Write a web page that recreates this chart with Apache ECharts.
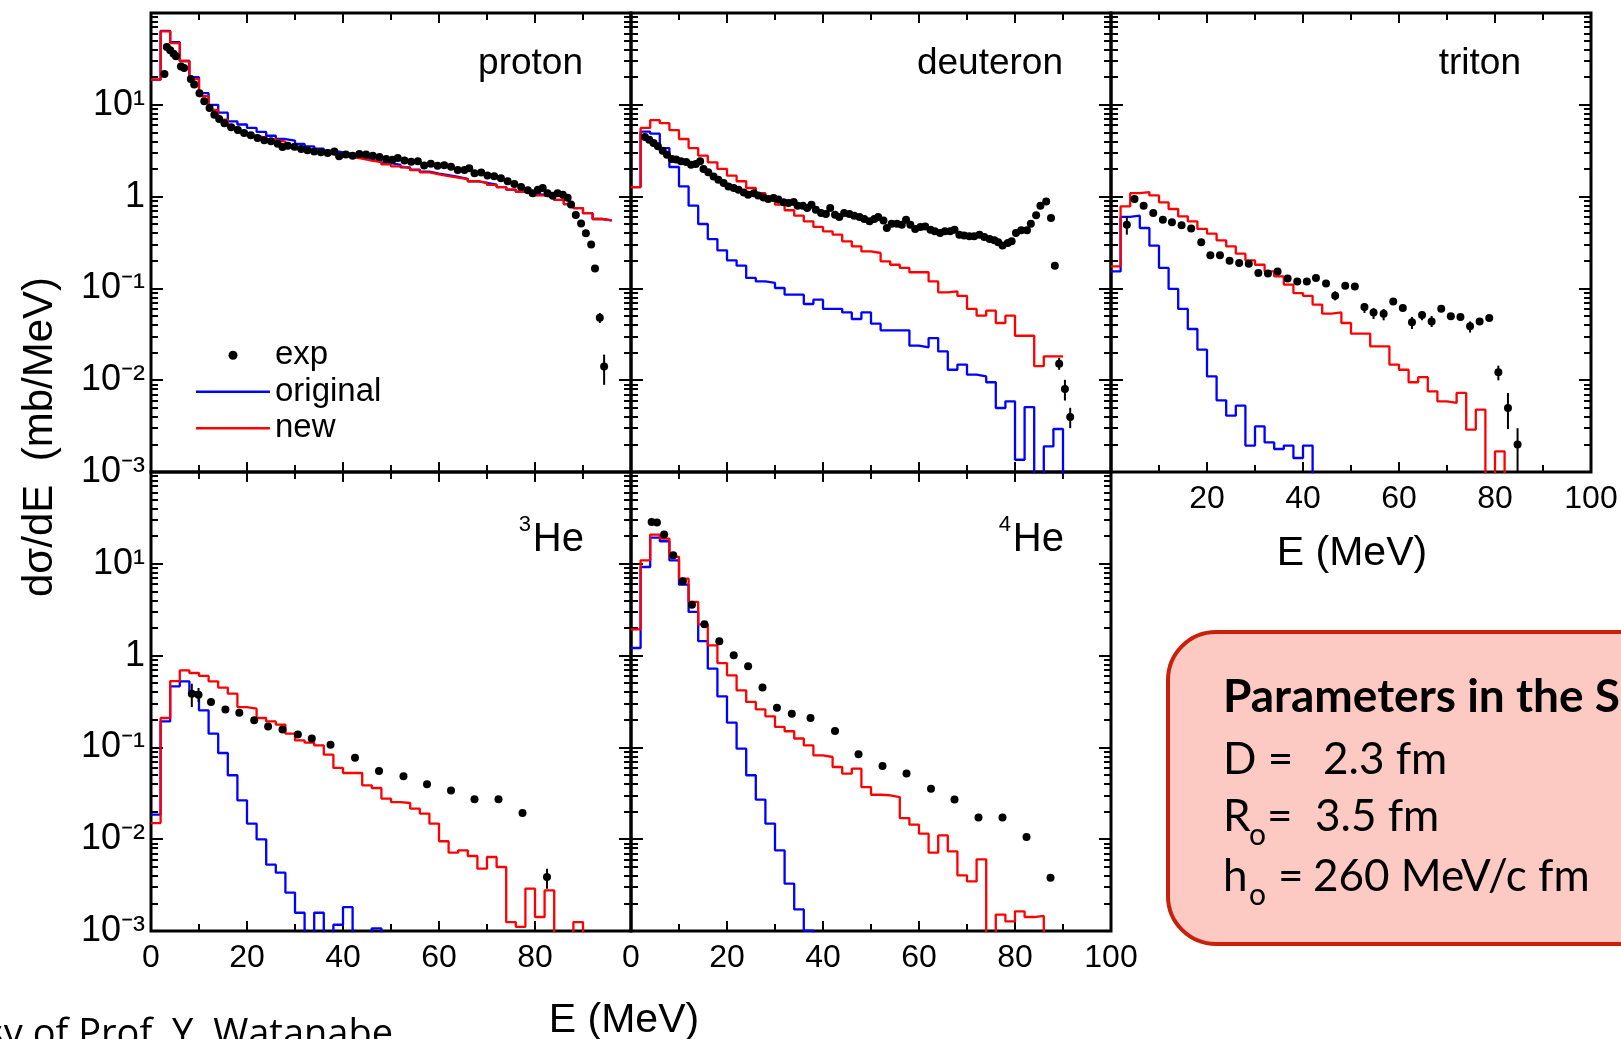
<!DOCTYPE html>
<html>
<head>
<meta charset="utf-8">
<script src="https://cdn.jsdelivr.net/npm/echarts@6/dist/echarts.min.js"></script>
<style>
  html, body { margin: 0; padding: 0; background: #fff; }
  #chart { width: 1621px; height: 1039px; }
</style>
</head>
<body>
<div id="chart"></div>
<script>
// Energy spectra dσ/dE (mb/MeV) of light particles, experiment vs. two model versions.
// Model histograms use 2 MeV bins starting at 0 MeV; a 0 means an empty bin.
const BIN = 2;

const panelNames = ['proton', 'deuteron', 'triton', 'He', 'He'];
const panelMass = ['', '', '', '3', '4'];
const legendNames = ['exp', 'original', 'new'];
const xTickLabels = [0, 20, 40, 60, 80, 100];
const yDecades = [0.001, 0.01, 0.1, 1, 10, 100];
const yLabelled = [0.001, 0.01, 0.1, 1, 10];

const protonOriginal = [18.8, 64, 48, 30, 20, 13.4, 10.0, 8.2, 6.6, 6.1, 5.6, 5.06, 4.6, 4.24, 4.06, 3.74, 3.53, 3.33, 3.16, 3.04, 2.91, 2.75, 2.61, 2.48, 2.32, 2.21, 2.08, 1.97, 1.87, 1.78, 1.71, 1.64, 1.56, 1.47, 1.41, 1.35, 1.27, 1.19, 1.13, 1.09, 1.04, 0.99, 0.92, 0.83, 0.75, 0.66, 0.57, 0.55];
const protonNew = [18.8, 63, 47, 30, 19, 12.4, 8.8, 6.9, 5.7, 5.0, 4.6, 4.4, 4.17, 3.97, 3.6, 3.3, 3.2, 3.03, 2.89, 2.79, 2.70, 2.59, 2.47, 2.37, 2.24, 2.13, 2.04, 1.94, 1.84, 1.75, 1.67, 1.61, 1.55, 1.47, 1.41, 1.34, 1.27, 1.19, 1.13, 1.09, 1.03, 0.99, 0.92, 0.83, 0.75, 0.66, 0.57, 0.55];
const protonExp = [[2.8, 21.6], [3.3, 42.6], [4.0, 39.2], [4.7, 36], [5.2, 33.7], [6.25, 26.2], [6.9, 25.2], [8.3, 19.1], [9.0, 16.6], [10.1, 13.4], [11.1, 10.9], [12.2, 9.2], [13.2, 7.8], [14.2, 7.0], [15.3, 6.3], [16.7, 5.7], [18.1, 5.3], [19.4, 4.93], [20.8, 4.65], [22.2, 4.35], [23.6, 4.1], [25, 4.0], [26.4, 3.77], [27.4, 3.47], [28.5, 3.59], [29.9, 3.5], [31.3, 3.3], [32.6, 3.19], [34, 3.1], [35.4, 3.04], [36.8, 2.99], [38.2, 3.1], [39.2, 2.75], [40.6, 2.87], [42, 2.79], [43.4, 2.91], [44.8, 2.87], [46.2, 2.79], [47.6, 2.7], [49, 2.56], [50.3, 2.52], [51.4, 2.63], [52.8, 2.48], [54.2, 2.4], [55.6, 2.42], [56.9, 2.18], [58.3, 2.28], [59.7, 2.17], [61.1, 2.2], [62.5, 2.12], [63.9, 1.95], [65.3, 1.95], [66.3, 2.04], [67.4, 1.8], [68.8, 1.83], [70.1, 1.7], [71.5, 1.67], [72.9, 1.58], [74.3, 1.47], [75.7, 1.37], [77.1, 1.27], [78.5, 1.17], [79.5, 1.09], [80.6, 1.19], [81.6, 1.24], [82.6, 1.09], [83.7, 1.02], [84.7, 1.09], [85.8, 1.05], [86.8, 0.97], [87.5, 0.82], [88.5, 0.63], [89.6, 0.51], [90.6, 0.40], [91.7, 0.30], [92.5, 0.165], [93.5, 0.048], [94.4, 0.0141]];
const protonErr = [[93.5, 0.042, 0.054], [94.4, 0.0089, 0.019]];

const deuteronOriginal = [1.27, 5.1, 4.85, 3.38, 2.1, 1.29, 0.796, 0.503, 0.345, 0.26, 0.202, 0.177, 0.130, 0.119, 0.115, 0.101, 0.0855, 0.0855, 0.0676, 0.0754, 0.0597, 0.0597, 0.0548, 0.0464, 0.0548, 0.0413, 0.0349, 0.0349, 0.0349, 0.0238, 0.0228, 0.0288, 0.0206, 0.013, 0.0148, 0.0115, 0.011, 0.0095, 0.00498, 0.00589, 0.00136, 0.0051, 0, 0.0019, 0.00294, 0];
const deuteronNew = [1.27, 5.6, 6.8, 6.3, 5.3, 4.24, 3.38, 2.79, 2.36, 2.0, 1.69, 1.47, 1.24, 1.09, 0.93, 0.817, 0.71, 0.62, 0.538, 0.467, 0.419, 0.385, 0.326, 0.287, 0.253, 0.243, 0.197, 0.181, 0.167, 0.150, 0.150, 0.119, 0.0906, 0.093, 0.083, 0.0597, 0.0505, 0.0572, 0.042, 0.0505, 0.0305, 0.0305, 0.0142, 0.0182, 0.0182];
const deuteronExp = [[2.9, 4.46], [3.8, 4.17], [4.7, 3.84], [5.6, 3.53], [6.6, 3.16], [7.5, 2.86], [8.5, 2.57], [9.4, 2.53], [10.4, 2.42], [11.5, 2.38], [12.5, 2.23], [13.5, 2.27], [14.4, 2.42], [15.1, 2.0], [16.1, 1.84], [17.2, 1.66], [18.2, 1.53], [19.3, 1.41], [20.3, 1.29], [21.4, 1.24], [22.4, 1.19], [23.5, 1.11], [24.4, 1.05], [25.6, 1.09], [26.5, 1.03], [27.6, 0.98], [28.6, 0.94], [29.7, 0.966], [30.7, 0.927], [31.8, 0.867], [32.8, 0.851], [33.9, 0.873], [34.7, 0.796], [35.8, 0.796], [36.7, 0.751], [37.6, 0.817], [38.5, 0.721], [39.6, 0.663], [40.6, 0.646], [41.5, 0.751], [42.5, 0.636], [43.4, 0.60], [44.4, 0.663], [45.5, 0.646], [46.5, 0.62], [47.6, 0.60], [48.6, 0.57], [49.7, 0.538], [50.7, 0.57], [51.5, 0.60], [52.6, 0.55], [53.3, 0.455], [54.3, 0.507], [55.4, 0.507], [56.4, 0.495], [57.3, 0.56], [58.2, 0.495], [59.2, 0.444], [60.3, 0.466], [61.3, 0.473], [62.4, 0.436], [63.3, 0.419], [64.4, 0.401], [65.4, 0.419], [66.5, 0.419], [67.4, 0.436], [68.4, 0.385], [69.4, 0.376], [70.5, 0.369], [71.5, 0.369], [72.6, 0.385], [73.6, 0.363], [74.7, 0.345], [75.7, 0.334], [76.5, 0.318], [77.4, 0.294], [78.5, 0.312], [79.3, 0.326], [80.2, 0.401], [81.3, 0.43], [82.5, 0.43], [83.3, 0.507], [84.4, 0.625], [85.3, 0.796], [86.5, 0.887], [87.5, 0.585], [88.3, 0.177], [89.2, 0.0151], [90.4, 0.0080], [91.5, 0.00397]];
const deuteronErr = [[89.2, 0.0130, 0.0175], [90.4, 0.0060, 0.0101], [91.5, 0.0030, 0.0050]];

const tritonOriginal = [0.153, 0.60, 0.62, 0.455, 0.292, 0.167, 0.0987, 0.0597, 0.0361, 0.0215, 0.011, 0.00604, 0.00411, 0.00528, 0.00194, 0.00314, 0.0021, 0.00178, 0.00194, 0.00142, 0.00194, 0];
const tritonNew = [0.174, 0.783, 1.09, 1.12, 1.03, 0.867, 0.733, 0.61, 0.538, 0.444, 0.395, 0.334, 0.287, 0.239, 0.202, 0.181, 0.153, 0.135, 0.11, 0.089, 0.083, 0.0666, 0.0531, 0.0548, 0.042, 0.0321, 0.0321, 0.0234, 0.0234, 0.0148, 0.013, 0.0095, 0.0108, 0.00757, 0.00589, 0.00565, 0.00726, 0.00289, 0.00478, 0, 0.00168, 0];
const tritonExp = [[3.3, 0.494], [4.9, 0.942], [6.8, 0.796], [8.8, 0.663], [10.8, 0.561], [12.7, 0.525], [14.7, 0.487], [16.7, 0.448], [18.8, 0.318], [20.7, 0.229], [22.7, 0.229], [24.7, 0.2], [26.7, 0.189], [28.7, 0.186], [30.7, 0.147], [32.7, 0.145], [34.7, 0.153], [36.8, 0.128], [38.8, 0.119], [40.8, 0.119], [42.7, 0.13], [44.8, 0.113], [46.7, 0.0834], [48.8, 0.107], [50.8, 0.105], [52.8, 0.0627], [54.7, 0.0548], [56.8, 0.0531], [58.8, 0.0722], [60.8, 0.0611], [62.7, 0.0427], [64.8, 0.0513], [66.8, 0.0437], [68.8, 0.0601], [70.8, 0.0496], [72.8, 0.0488], [74.8, 0.0386], [76.8, 0.0437], [78.8, 0.0476], [80.7, 0.0122], [82.7, 0.00498], [84.7, 0.00199]];
const tritonErr = [[3.3, 0.385, 0.61], [46.7, 0.074, 0.093], [52.8, 0.054, 0.0693], [54.7, 0.0464, 0.061], [56.8, 0.0449, 0.0597], [62.7, 0.0361, 0.0489], [64.8, 0.045, 0.056], [66.8, 0.038, 0.050], [74.8, 0.0331, 0.0437], [80.7, 0.00997, 0.0144], [82.7, 0.00294, 0.00726], [84.7, 0.001, 0.003]];

const he3Original = [0.0185, 0.192, 0.463, 0.525, 0.401, 0.253, 0.141, 0.0869, 0.0497, 0.0265, 0.0148, 0.00997, 0.00528, 0.00432, 0.00262, 0.00158, 0, 0.00158, 0, 0.00117, 0.00182, 0, 0, 0.00107, 0];
const he3New = [0.0150, 0.209, 0.528, 0.691, 0.646, 0.60, 0.525, 0.448, 0.385, 0.275, 0.264, 0.209, 0.192, 0.177, 0.141, 0.119, 0.113, 0.105, 0.0834, 0.0597, 0.0526, 0.0526, 0.0386, 0.0361, 0.0277, 0.0254, 0.0248, 0.0215, 0.019, 0.0148, 0.0095, 0.00713, 0.00757, 0.00656, 0.00478, 0.0064, 0.00498, 0.00125, 0.00111, 0.00289, 0.00142, 0.00277, 0, 0, 0.00125, 0];
const he3Exp = [[8.5, 0.385], [9.9, 0.375], [12.5, 0.313], [15.5, 0.258], [18.4, 0.239], [21.5, 0.197], [24.4, 0.169], [27.4, 0.157], [30.6, 0.138], [33.5, 0.125], [37.4, 0.107], [42.5, 0.0773], [47.5, 0.0553], [52.6, 0.0484], [57.5, 0.0396], [62.5, 0.034], [67.4, 0.0272], [72.4, 0.0272], [77.4, 0.0193], [82.5, 0.00387]];
const he3Err = [[8.5, 0.275, 0.494], [9.9, 0.313, 0.444], [82.5, 0.00289, 0.00478]];

const he4Original = [1.21, 9.23, 19.3, 17.6, 10.9, 5.93, 2.99, 1.44, 0.721, 0.36, 0.186, 0.0968, 0.0497, 0.027, 0.0148, 0.00757, 0.00328, 0.00172, 0.00101, 0];
const he4New = [1.93, 10.9, 20.8, 18.8, 11.9, 6.89, 3.84, 2.19, 1.29, 0.83, 0.61, 0.419, 0.313, 0.26, 0.218, 0.167, 0.15, 0.125, 0.105, 0.082, 0.0786, 0.0612, 0.0518, 0.0587, 0.037, 0.0305, 0.0301, 0.0288, 0.017, 0.0144, 0.0115, 0.00713, 0.011, 0.00738, 0.00404, 0.00347, 0.00604, 0, 0.00151, 0.00127, 0.00164, 0.00142, 0.00146, 0];
const he4Exp = [[4.3, 28.5], [5.4, 28.1], [6.9, 20.9], [8.8, 12.4], [10.8, 6.44], [12.7, 3.59], [15.3, 2.19], [18.4, 1.43], [21.4, 1.01], [24.4, 0.764], [27.4, 0.448], [30.4, 0.271], [33.5, 0.233], [37.4, 0.209], [42.5, 0.151], [47.4, 0.084], [52.4, 0.0627], [57.4, 0.0518], [62.5, 0.0355], [67.4, 0.027], [72.4, 0.0172], [77.4, 0.0172], [82.4, 0.0106], [87.4, 0.00381]];
const he4Err = [];

// ---------------------------------------------------------------------------
const SANS = "'Liberation Sans', Arial, Helvetica, sans-serif";
const HUMANIST = "Lato, 'Open Sans', sans-serif";
const OPEN = "'Open Sans', 'Noto Sans', sans-serif";
const BLUE = '#0000ff';
const RED = '#ff0000';
const OFF_SCALE = 1e-7;   // empty bins fall below the axis floor and get clipped
const PANEL_W = 480, PANEL_H = 459;
const LINE_ICON = 'path://M0 0H74V2.3H0Z';
const SUPERSCRIPT = { '-': '\u207B', '0': '\u2070', '1': '\u00B9', '2': '\u00B2', '3': '\u00B3' };

const panels = [
  { left: 151, top: 13,  orig: protonOriginal,   neu: protonNew,   exp: protonExp,   err: protonErr,   yLab: true,  xLab: null },
  { left: 631, top: 13,  orig: deuteronOriginal, neu: deuteronNew, exp: deuteronExp, err: deuteronErr, yLab: false, xLab: null },
  { left: 1111, top: 13, orig: tritonOriginal,   neu: tritonNew,   exp: tritonExp,   err: tritonErr,   yLab: false, xLab: { min: false, max: true } },
  { left: 151, top: 472, orig: he3Original,      neu: he3New,      exp: he3Exp,      err: he3Err,      yLab: true,  xLab: { min: true, max: false } },
  { left: 631, top: 472, orig: he4Original,      neu: he4New,      exp: he4Exp,      err: he4Err,      yLab: false, xLab: { min: true, max: true } }
];

// minor tick positions 2..9 within each decade
const yMinor = [];
for (let e = -3; e <= 1; e++) for (let m = 2; m <= 9; m++) yMinor.push(+(m * Math.pow(10, e)).toPrecision(3));

function histPoints(bins) {
  const pts = bins.map((v, i) => [i * BIN, v > 0 ? v : OFF_SCALE]);
  const last = bins[bins.length - 1];
  pts.push([bins.length * BIN, last > 0 ? last : OFF_SCALE]);
  return pts;
}

function powerLabel(v) {
  const e = Math.round(Math.log10(v));
  if (e === 0) return '1';
  return '10' + String(e).split('').map(c => SUPERSCRIPT[c]).join('');
}

const tickLine = { color: '#000', width: 2 };

const grids = [], xAxes = [], yAxes = [], series = [];
panels.forEach((p, i) => {
  grids.push({
    left: p.left, top: p.top, width: PANEL_W, height: PANEL_H,
    show: true, borderColor: '#000', borderWidth: 3, backgroundColor: 'transparent',
    containLabel: false, outerBoundsMode: 'none'
  });
  ['bottom', 'top'].forEach(pos => {
    const lab = pos === 'bottom' && p.xLab;
    xAxes.push({
      gridIndex: i, type: 'value', min: 0, max: 100, interval: 20, position: pos,
      axisLine: { show: false, onZero: false }, splitLine: { show: false },
      axisTick: { inside: true, length: 10, lineStyle: tickLine },
      minorTick: { show: true, splitNumber: 2, length: 7, lineStyle: tickLine },
      axisLabel: lab ? {
        show: true, color: '#000', fontSize: 32, fontFamily: SANS, margin: 11,
        showMinLabel: p.xLab.min, showMaxLabel: p.xLab.max,
        customValues: xTickLabels
      } : { show: false }
    });
  });
  ['left', 'right'].forEach(pos => {
    const lab = pos === 'left' && p.yLab;
    yAxes.push({
      gridIndex: i, type: 'log', logBase: 10, min: 0.001, max: 100, position: pos,
      axisLine: { show: false, onZero: false }, splitLine: { show: false },
      axisTick: { inside: true, length: 12, lineStyle: tickLine, customValues: yDecades },
      axisLabel: lab ? {
        show: true, color: '#000', fontSize: 36, fontFamily: SANS, margin: 6,
        customValues: yLabelled, formatter: powerLabel
      } : { show: false }
    });
    yAxes.push({
      gridIndex: i, type: 'log', logBase: 10, min: 0.001, max: 100, position: pos,
      axisLine: { show: false, onZero: false }, splitLine: { show: false },
      axisTick: { inside: true, length: 7, lineStyle: tickLine, customValues: yMinor },
      axisLabel: { show: false }
    });
  });

  const xi = 2 * i, yi = 4 * i;
  series.push({
    type: 'line', name: 'original', xAxisIndex: xi, yAxisIndex: yi, step: 'end',
    data: histPoints(p.orig), symbol: 'none', clip: true, z: 2,
    lineStyle: { color: BLUE, width: 2.3 }, itemStyle: { color: BLUE }
  });
  series.push({
    type: 'line', name: 'new', xAxisIndex: xi, yAxisIndex: yi, step: 'end',
    data: histPoints(p.neu), symbol: 'none', clip: true, z: 3,
    lineStyle: { color: RED, width: 2.3 }, itemStyle: { color: RED }
  });
  series.push({
    type: 'custom', name: 'exp error', xAxisIndex: xi, yAxisIndex: yi, z: 4,
    data: p.err, encode: { x: 0, y: [1, 2] },
    renderItem: (params, api) => {
      const lo = api.coord([api.value(0), api.value(1)]);
      const hi = api.coord([api.value(0), api.value(2)]);
      return { type: 'line', shape: { x1: lo[0], y1: lo[1], x2: hi[0], y2: hi[1] }, style: { stroke: '#000', lineWidth: 2 } };
    }
  });
  series.push({
    type: 'scatter', name: 'exp', xAxisIndex: xi, yAxisIndex: yi, z: 5,
    data: p.exp, symbol: 'circle', symbolSize: 8, itemStyle: { color: '#000', opacity: 1 }
  });
});

// text placed by its baseline; 'middle' sits this fraction of the size above it
function label(text, x, base, size, opt) {
  opt = opt || {};
  const k = opt.family === HUMANIST ? 0.387 : (opt.family === OPEN ? 0.43 : 0.3465);
  return {
    type: 'text', x: x, y: base - k * size, silent: true, z: opt.z || 1,
    style: {
      text: text, fill: '#000', fontSize: size, fontFamily: opt.family || SANS,
      fontWeight: opt.weight || 'normal', align: opt.align || 'left', verticalAlign: 'middle'
    }
  };
}
const BOX = { family: HUMANIST, z: 11 };

const graphics = [
  label(panelNames[0], 583, 77, 37, { align: 'right' }),
  label(panelNames[1], 1063, 77, 37, { align: 'right' }),
  label(panelNames[2], 1521, 77, 37, { align: 'right' }),
  label(panelNames[3], 584, 554, 40, { align: 'right' }),
  label(panelMass[3], 531, 533, 22, { align: 'right' }),
  label(panelNames[4], 1064, 554, 40, { align: 'right' }),
  label(panelMass[4], 1011, 533, 22, { align: 'right' }),
  label('E (MeV)', 624, 1035, 41, { align: 'center' }),
  label('E (MeV)', 1352, 568, 41, { align: 'center' }),
  {
    type: 'text', x: 40, y: 437, rotation: Math.PI / 2, silent: true,
    style: { text: 'dσ/dE  (mb/MeV)', fill: '#000', fontSize: 42, fontFamily: SANS, align: 'center', verticalAlign: 'middle' }
  },
  {
    type: 'rect', silent: true, z: 10,
    shape: { x: 1168, y: 632, width: 640, height: 312, r: 48 },
    style: { fill: '#fccac2', stroke: '#c8200a', lineWidth: 4 }
  },
  label('Parameters in the S', 1223, 715, 46, { family: HUMANIST, weight: 'bold', z: 11 }),
  label('D =', 1223, 777, 44, BOX),
  label('2.3 fm', 1323, 777, 44, BOX),
  label('R', 1223, 834, 44, BOX),
  label('o', 1249, 847, 30, BOX),
  label('=', 1267, 834, 44, BOX),
  label('3.5 fm', 1315, 834, 44, BOX),
  label('h', 1223, 894, 44, BOX),
  label('o', 1249, 907, 30, BOX),
  label('=', 1278, 894, 44, BOX),
  label('260 MeV/c fm', 1313, 894, 44, BOX),
  label('Courtesy of Prof. Y. Watanabe', 393, 1052, 38, { family: OPEN, align: 'right' })
];

const chart = echarts.init(document.getElementById('chart'), null, { renderer: 'canvas', width: 1621, height: 1039 });
chart.setOption({
  animation: false,
  backgroundColor: '#fff',
  grid: grids,
  xAxis: xAxes,
  yAxis: yAxes,
  legend: {
    data: [
      { name: legendNames[0], icon: 'circle' },
      { name: legendNames[1], icon: LINE_ICON },
      { name: legendNames[2], icon: LINE_ICON }
    ],
    orient: 'vertical', left: 196, top: 337, padding: 0,
    itemWidth: 74, itemHeight: 9, itemGap: 0, selectedMode: false,
    textStyle: { fontSize: 33, fontFamily: SANS, color: '#000', lineHeight: 36.5 }
  },
  series: series,
  graphic: graphics
});
</script>
</body>
</html>
